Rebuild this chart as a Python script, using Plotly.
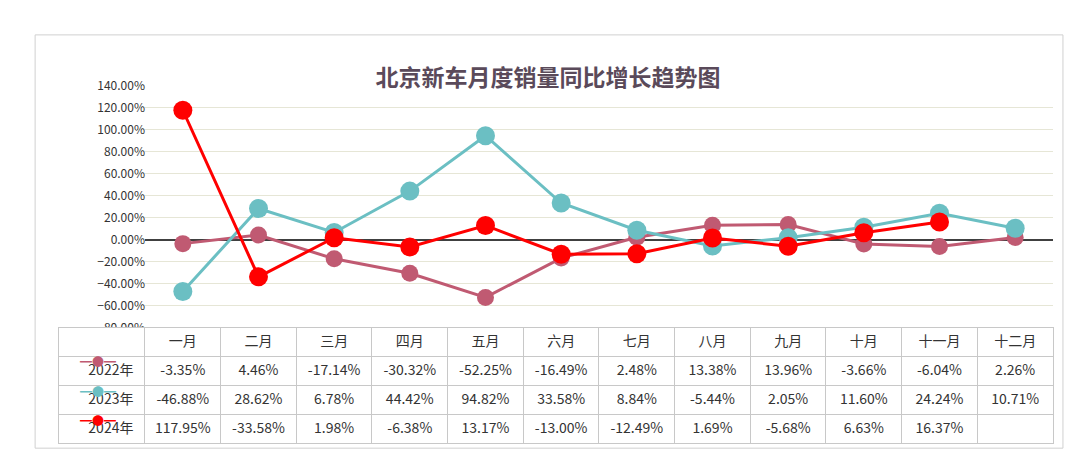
import plotly.graph_objects as go

months = ["一月", "二月", "三月", "四月", "五月", "六月", "七月", "八月", "九月", "十月", "十一月", "十二月"]
y2022 = [-3.35, 4.46, -17.14, -30.32, -52.25, -16.49, 2.48, 13.38, 13.96, -3.66, -6.04, 2.26]
y2023 = [-46.88, 28.62, 6.78, 44.42, 94.82, 33.58, 8.84, -5.44, 2.05, 11.60, 24.24, 10.71]
y2024 = [117.95, -33.58, 1.98, -6.38, 13.17, -13.00, -12.49, 1.69, -5.68, 6.63, 16.37, None]

series = [("2022年", y2022, "#c05a72", 17), ("2023年", y2023, "#6bbfc3", 19), ("2024年", y2024, "#ff0000", 19)]

x0 = (137 - 50) / 995
fig = go.Figure()
for name, vals, col, ms in series:
    fig.add_trace(go.Scatter(x=months, y=vals, mode="lines+markers", name=name,
                             line=dict(color=col, width=3), marker=dict(color=col, size=ms),
                             showlegend=False))

def fmt(v):
    return "" if v is None else f"{v:.2f}%"

first_col = ["      " + n for n, _, _, _ in series]
cells = [first_col] + [[fmt(s[1][i]) for s in series] for i in range(12)]
fig.add_trace(go.Table(
    domain=dict(x=[0, 1], y=[0, 0.328]),
    columnwidth=[87] + [75.7] * 12,
    header=dict(values=[""] + months, height=29, fill_color="white",
                line_color="#c8c8c8", font=dict(size=14, color="#333"), align="center"),
    cells=dict(values=cells, height=29, fill_color="white",
               line_color="#c8c8c8", font=dict(size=14, color="#333"), align="center"),
))

annotations = []
for i, (name, _, col, _) in enumerate(series):
    annotations.append(dict(text="━●━", xref="paper", yref="paper", x=0.02, y=(438 - 364 - 29.5 * i) / 360,
                            showarrow=False, font=dict(size=12, color=col)))

fig.update_layout(
    width=1080, height=461, paper_bgcolor="white", plot_bgcolor="white",
    margin=dict(l=50, r=35, t=78, b=23),
    font=dict(family="Noto Sans CJK SC"),
    title=dict(text="<b>北京新车月度销量同比增长趋势图</b>", x=0.5, y=0.865, xanchor="center",
               font=dict(size=23, color="#5a4a5a")),
    xaxis=dict(domain=[x0, 1], range=[-0.5, 11.5], showticklabels=False, showgrid=False),
    yaxis=dict(domain=[0.328, 1], range=[-80, 140], dtick=20, tickformat=".2f", ticksuffix="%",
               anchor="free", position=x0, gridcolor="#e6e6d6", zeroline=True,
               zerolinecolor="#404040", zerolinewidth=1.5,
               tickfont=dict(size=12, color="#333")),
    annotations=annotations,
    shapes=[dict(type="rect", xref="paper", yref="paper", x0=-0.023, x1=1.01, y0=-0.006, y1=1.142,
                 line=dict(color="#d0d0d0", width=1))],
)
fig.write_html("out.html")
